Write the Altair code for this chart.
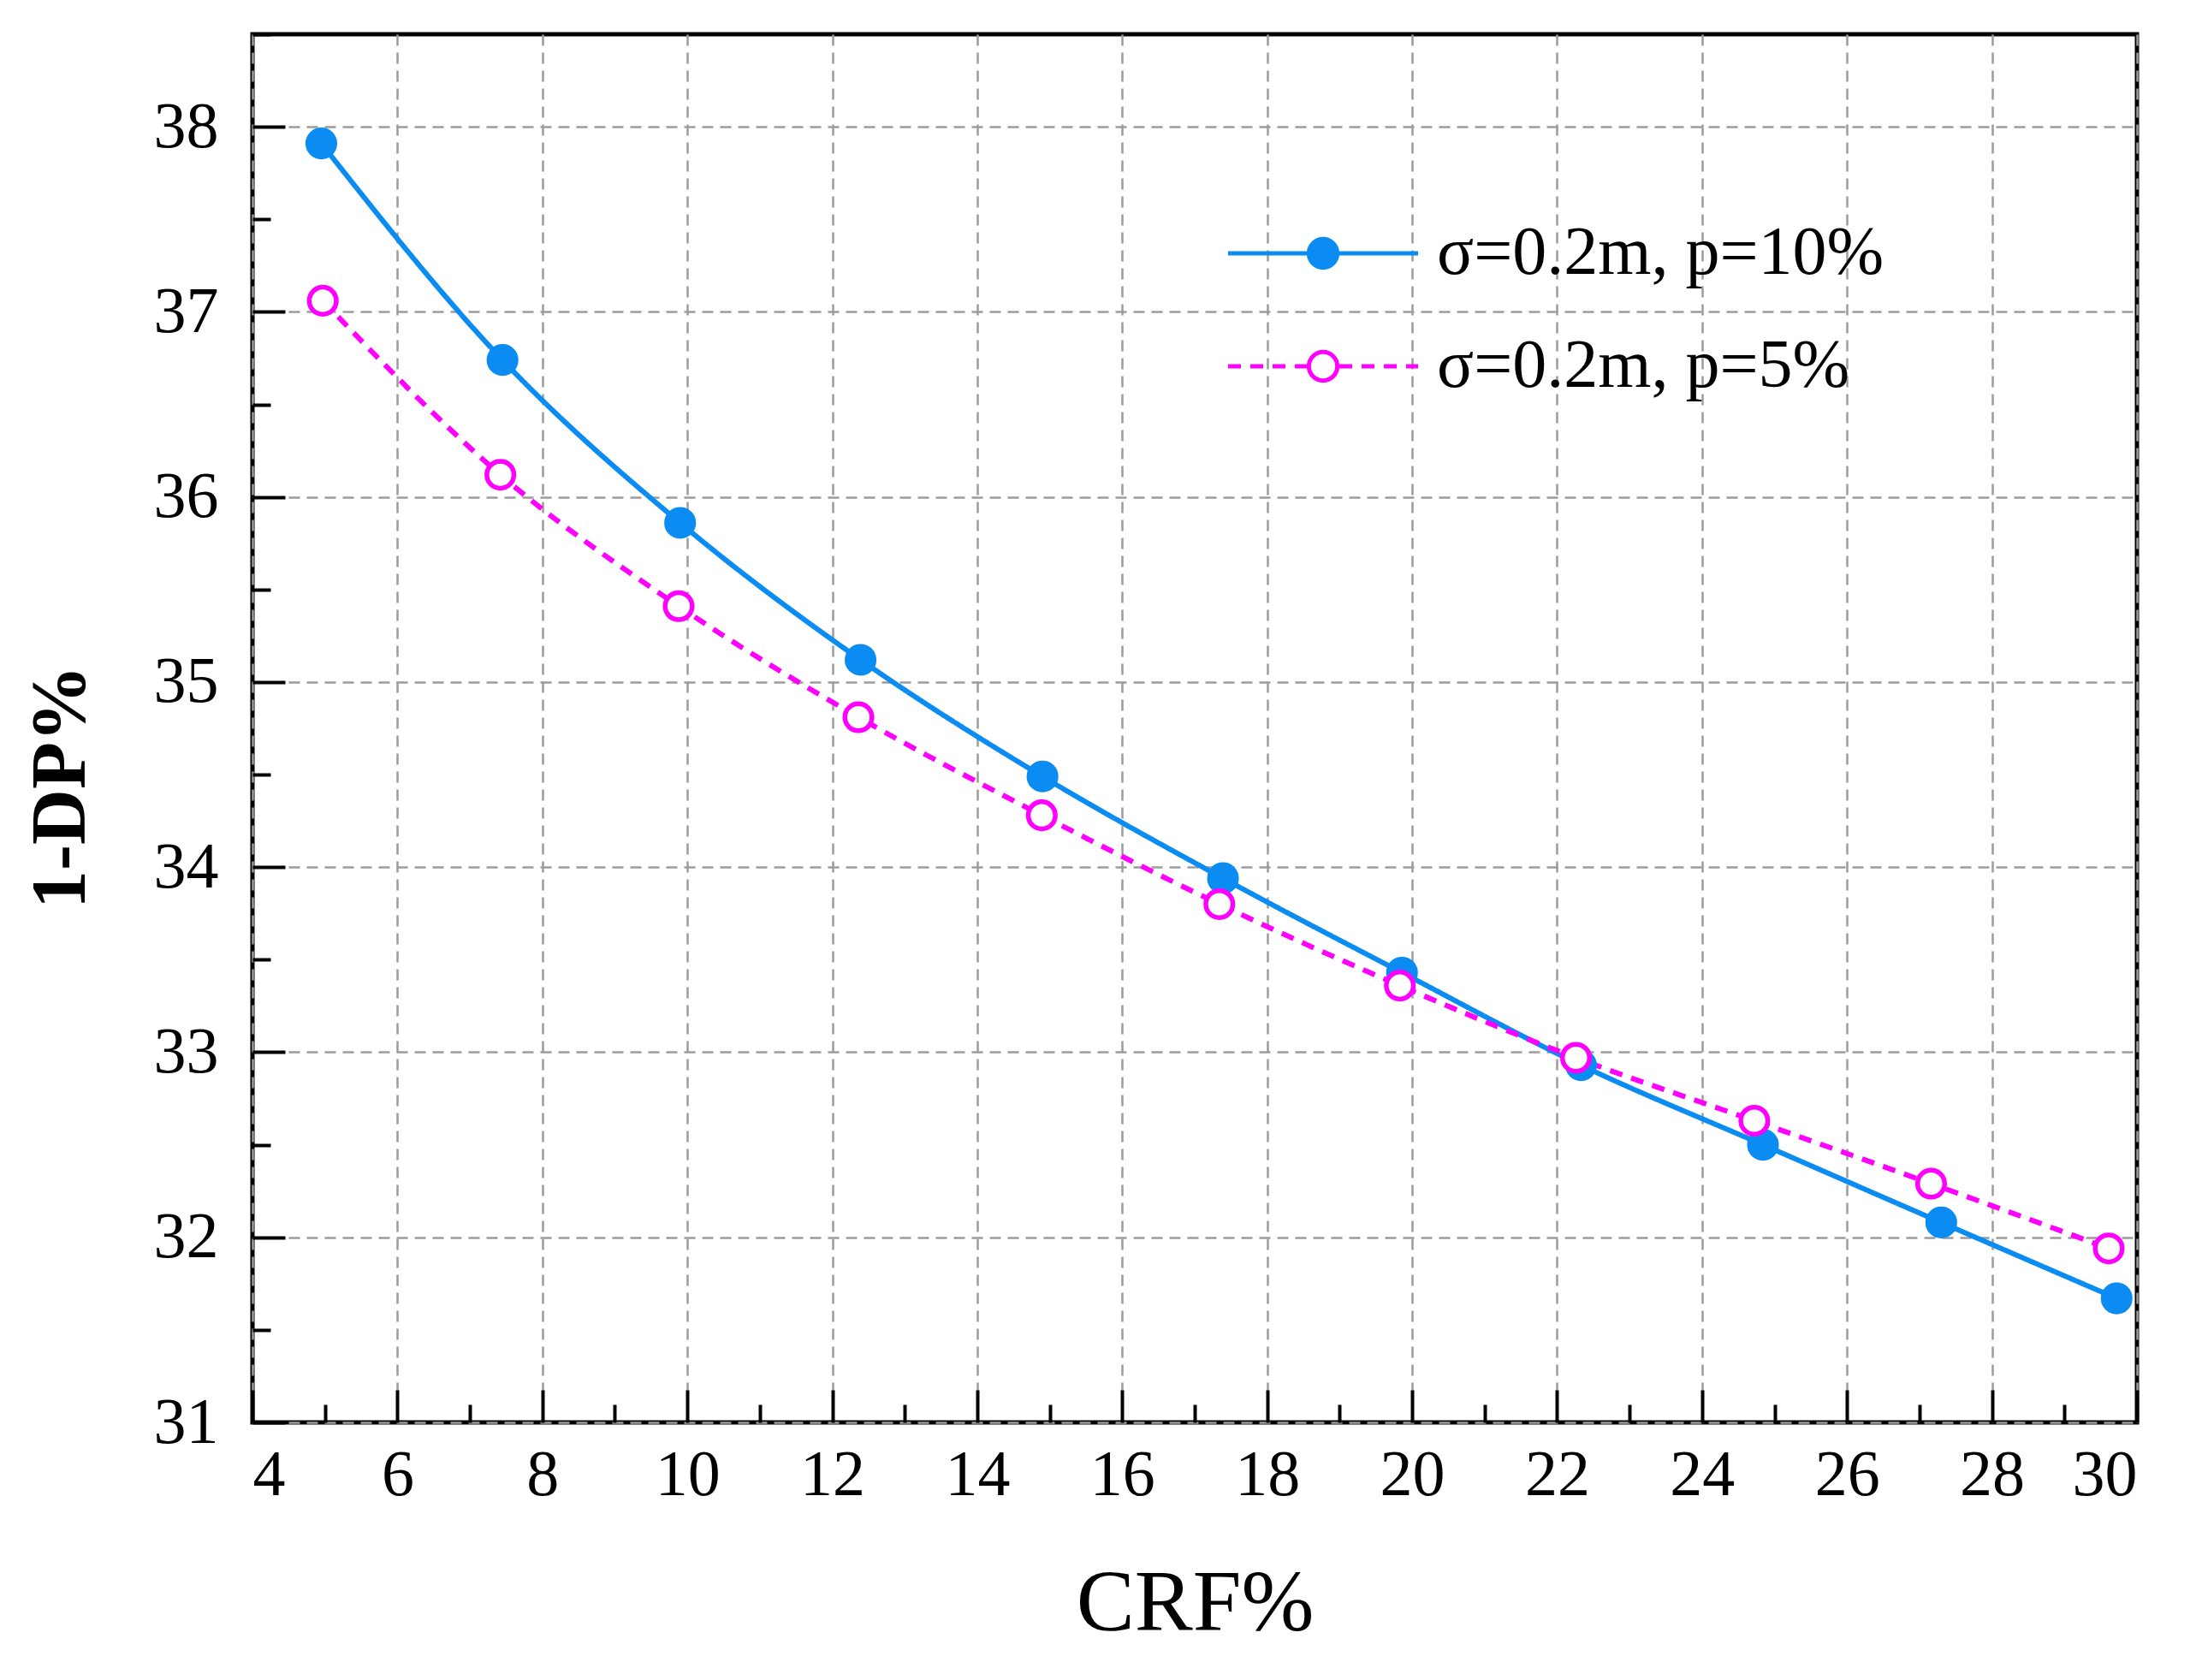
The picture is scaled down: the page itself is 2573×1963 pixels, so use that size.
import altair as alt
import pandas as pd

# ---- data ----
series_names = ["σ=0.2m, p=10%", "σ=0.2m, p=5%"]
crf_p10 = [4.95, 7.45, 9.90, 12.39, 14.90, 17.39, 19.86, 22.33, 24.84, 27.30, 29.72]
dp_p10 = [37.91, 36.74, 35.86, 35.12, 34.49, 33.94, 33.43, 32.93, 32.50, 32.08, 31.67]
crf_p5 = [4.97, 7.42, 9.88, 12.36, 14.89, 17.34, 19.83, 22.26, 24.72, 27.16, 29.61]
dp_p5 = [37.06, 36.12, 35.41, 34.81, 34.28, 33.80, 33.36, 32.97, 32.63, 32.29, 31.94]

x_major = [4, 6, 8, 10, 12, 14, 16, 18, 20, 22, 24, 26, 28, 30]
x_minor = [5, 7, 9, 11, 13, 15, 17, 19, 21, 23, 25, 27, 29]
y_major = [31, 32, 33, 34, 35, 36, 37, 38]
y_minor = [31.5, 32.5, 33.5, 34.5, 35.5, 36.5, 37.5, 38.5]

rows = []
for x, y in zip(crf_p10, dp_p10):
    rows.append({"series": series_names[0], "crf": x, "dp": y})
for x, y in zip(crf_p5, dp_p5):
    rows.append({"series": series_names[1], "crf": x, "dp": y})
df = pd.DataFrame(rows)
df["marker"] = df["series"]

FONT = "Liberation Serif"
W, H = 2202, 1622
BLUE = "#0a8cf2"
MAG = "#ff00ff"
GRID = "#9c9c9c"

x_scale = alt.Scale(domain=[4, 30], nice=False, zero=False)
y_scale = alt.Scale(domain=[31, 38.5], nice=False, zero=False)

# label axes (bottom / left) with dashed grid
x_label_axis = alt.Axis(
    orient="bottom", values=x_major, ticks=False, tickSize=0, domain=False,
    grid=True, gridColor=GRID, gridDash=[13, 8], gridWidth=2.5,
    labelFont=FONT, labelFontSize=76, labelColor="black", labelPadding=24,
    title="CRF%", titleFont=FONT, titleFontSize=102, titleFontWeight="normal",
    titleColor="black", titlePadding=62,
)
y_label_axis = alt.Axis(
    orient="left", values=y_major, ticks=False, tickSize=0, domain=False,
    grid=True, gridColor=GRID, gridDash=[13, 8], gridWidth=2.5,
    labelFont=FONT, labelFontSize=76, labelColor="black", labelPadding=40,
    title="1-DP%", titleFont=FONT, titleFontSize=90, titleFontWeight="bold",
    titleColor="black", titlePadding=62, titleY=H / 2 + 68,
)

# inward major/minor ticks: axes placed on the opposite side with a negative offset
x_major_axis = alt.Axis(
    orient="top", offset=-H, values=x_major, labels=False, domain=False, grid=False,
    ticks=True, tickSize=38, tickWidth=4, tickColor="black", title=None,
)
y_major_axis = alt.Axis(
    orient="right", offset=-W, values=y_major, labels=False, domain=False, grid=False,
    ticks=True, tickSize=38, tickWidth=4, tickColor="black", title=None,
)
x_minor_axis = alt.Axis(
    orient="top", offset=-H, values=x_minor, labels=False, domain=False, grid=False,
    ticks=True, tickSize=21, tickWidth=4, tickColor="black", title=None,
)
y_minor_axis = alt.Axis(
    orient="right", offset=-W, values=y_minor, labels=False, domain=False, grid=False,
    ticks=True, tickSize=21, tickWidth=4, tickColor="black", title=None,
)

LEG_X, LEG_Y = 1211, 216
SYM_SIZE = 74 * 74
legend_common = dict(
    orient="none", legendX=LEG_X, legendY=LEG_Y, direction="vertical", title=None,
    labelFont=FONT, labelFontSize=80, labelColor="black", labelLimit=0,
    labelOffset=93, rowPadding=52, padding=0, symbolSize=SYM_SIZE,
    symbolStrokeWidth=5,
)

line_legend = alt.Legend(symbolType="M-3,0H3", **legend_common)
point_legend = alt.Legend(
    symbolType="M-0.45,0A0.45,0.45,0,1,1,0.45,0A0.45,0.45,0,1,1,-0.45,0Z",
    labelOpacity=0, **legend_common,
)

lines = alt.Chart(df).mark_line(interpolate="monotone", strokeWidth=6).encode(
    x=alt.X("crf:Q", scale=x_scale, axis=x_label_axis),
    y=alt.Y("dp:Q", scale=y_scale, axis=y_label_axis),
    color=alt.Color("series:N", scale=alt.Scale(range=[BLUE, MAG]), legend=line_legend),
    strokeDash=alt.StrokeDash("series:N", scale=alt.Scale(range=[[1, 0], [15, 11]]), legend=line_legend),
)

points = alt.Chart(df).mark_point(shape="circle", size=1000, strokeWidth=5.5, opacity=1).encode(
    x=alt.X("crf:Q", scale=x_scale, axis=x_major_axis),
    y=alt.Y("dp:Q", scale=y_scale, axis=y_major_axis),
    fill=alt.Fill("marker:N", scale=alt.Scale(range=[BLUE, "white"]), legend=point_legend),
    stroke=alt.Stroke("marker:N", scale=alt.Scale(range=[BLUE, MAG]), legend=point_legend),
)

minor = alt.Chart(df).mark_point(opacity=0).encode(
    x=alt.X("crf:Q", scale=x_scale, axis=x_minor_axis),
    y=alt.Y("dp:Q", scale=y_scale, axis=y_minor_axis),
)

chart = (
    alt.layer(minor, lines, points)
    .resolve_axis(x="independent", y="independent")
    .properties(
        width=W, height=H,
        autosize=alt.AutoSizeParams(type="none"),
        padding={"left": 287, "top": 32, "right": 68, "bottom": 293},
        background="white",
    )
    .configure_view(stroke="black", strokeWidth=5)
)

chart.save("out.html", embed_options={"renderer": "svg", "actions": False})
